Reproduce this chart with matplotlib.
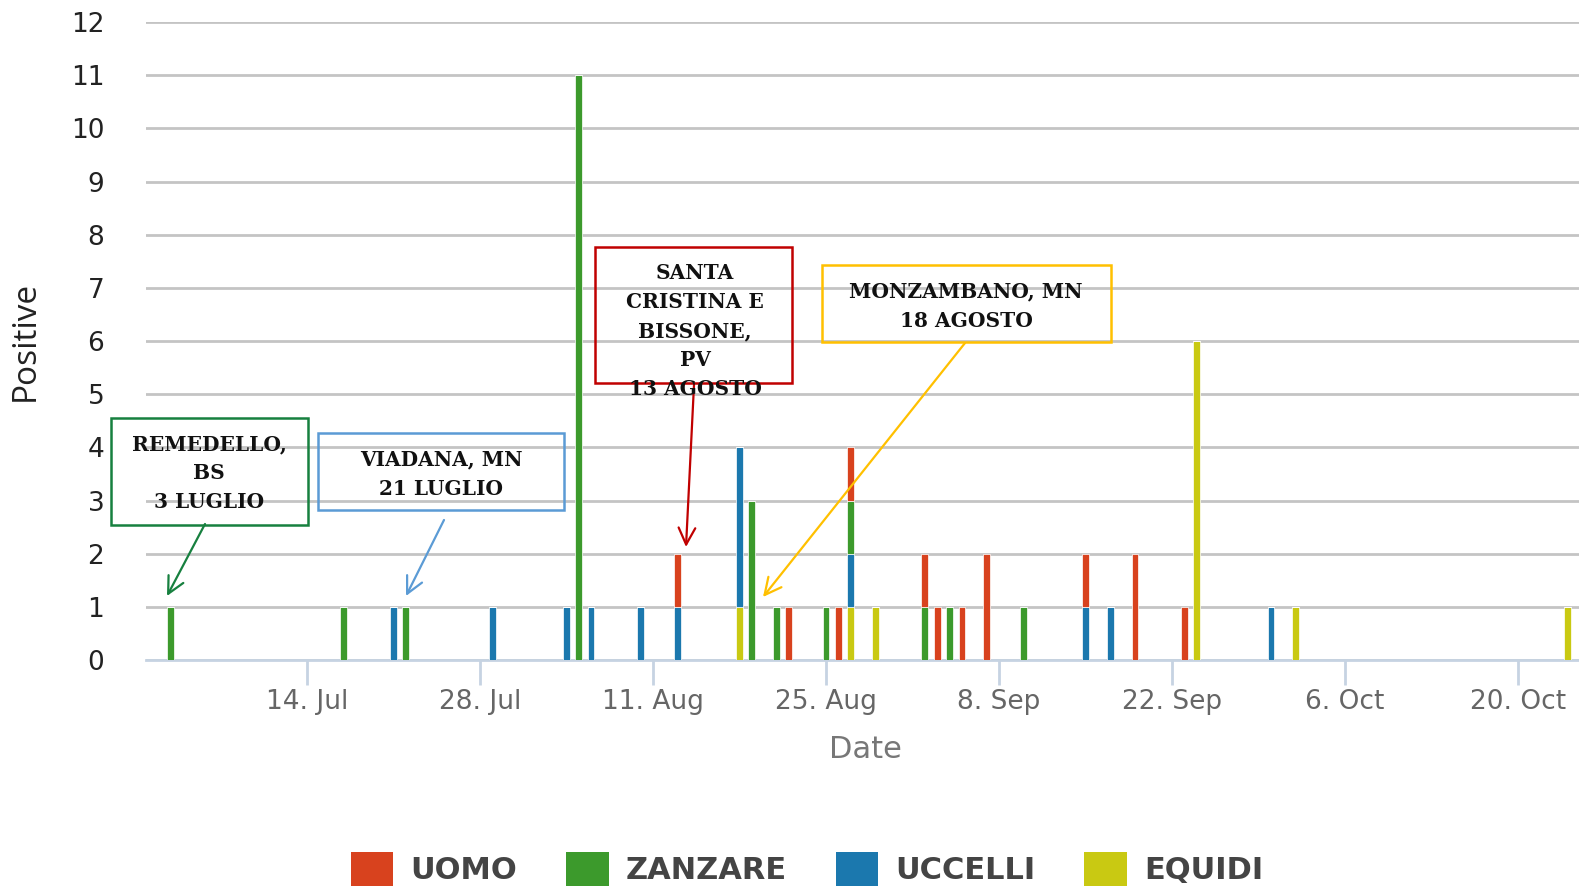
import matplotlib.pyplot as plt
import matplotlib.dates as mdates
from matplotlib.patches import Rectangle, Patch
import numpy as np
import datetime as dt

# positive samples per day (West Nile, Lombardia)
days = ['07-03', '07-17', '07-21', '07-22', '07-29', '08-04', '08-05', '08-06',
        '08-10', '08-13', '08-18', '08-19', '08-21', '08-22', '08-25', '08-26',
        '08-27', '08-29', '09-02', '09-03', '09-04', '09-05', '09-07', '09-10',
        '09-15', '09-17', '09-19', '09-23', '09-24', '09-30', '10-02', '10-24']
equidi  = [0, 0, 0, 0, 0, 0, 0, 0, 0, 0, 1, 0, 0, 0, 0, 0, 1, 1, 0, 0, 0, 0, 0, 0, 0, 0, 0, 0, 6, 0, 1, 1]
uccelli = [0, 0, 1, 0, 1, 1, 0, 1, 1, 1, 3, 0, 0, 0, 0, 0, 1, 0, 0, 0, 0, 0, 0, 0, 1, 1, 0, 0, 0, 1, 0, 0]
zanzare = [1, 1, 0, 1, 0, 0, 11, 0, 0, 0, 0, 3, 1, 0, 1, 0, 1, 0, 1, 0, 1, 0, 0, 1, 0, 0, 0, 0, 0, 0, 0, 0]
uomo    = [0, 0, 0, 0, 0, 0, 0, 0, 0, 1, 0, 0, 0, 1, 0, 1, 1, 0, 1, 1, 0, 1, 2, 0, 1, 0, 2, 1, 0, 0, 0, 0]

series_names = ['UOMO', 'ZANZARE', 'UCCELLI', 'EQUIDI']
colors = {'UOMO': '#d8421e', 'ZANZARE': '#3c9a2c', 'UCCELLI': '#1b78ae', 'EQUIDI': '#c9c912'}

tick_days = ['07-14', '07-28', '08-11', '08-25', '09-08', '09-22', '10-06', '10-20']
tick_labels = ['14. Jul', '28. Jul', '11. Aug', '25. Aug', '8. Sep', '22. Sep', '6. Oct', '20. Oct']

# annotations: text, edge colour
notes = [
    ('REMEDELLO,\nBS\n3 LUGLIO', '#17803f'),
    ('VIADANA, MN\n21 LUGLIO', '#5b9bd5'),
    ('SANTA\nCRISTINA E\nBISSONE,\nPV\n13 AGOSTO', '#c00000'),
    ('MONZAMBANO, MN\n18 AGOSTO', '#ffc000'),
]


def to_date(s):
    return dt.datetime(2014, int(s[:2]), int(s[3:]))


W, H = 1579, 886
fig = plt.figure(figsize=(W / 100, H / 100), dpi=100)
ax = fig.add_axes([146 / W, 1 - 660 / H, 1 - 146 / W, (660 - 22) / H])

x = mdates.date2num([to_date(d) for d in days])
bottom = np.zeros(len(days))
for name, vals in [('EQUIDI', equidi), ('UCCELLI', uccelli), ('ZANZARE', zanzare), ('UOMO', uomo)]:
    vals = np.array(vals, dtype=float)
    ax.bar(x, vals, width=0.55, bottom=bottom, color=colors[name],
           edgecolor='white', linewidth=0.5, zorder=3)
    bottom += vals

ax.set_ylim(0, 12)
ax.set_yticks(range(13))
ax.set_xlim(to_date('07-01'), to_date('10-24') + dt.timedelta(hours=22))
ax.set_xticks(mdates.date2num([to_date(d) for d in tick_days]))
ax.set_xticklabels(tick_labels)

ax.grid(axis='y', color='#c4c4c4', linewidth=2, zorder=0)
for s in ['left', 'right', 'top']:
    ax.spines[s].set_visible(False)
ax.spines['bottom'].set_color('#c6d3e2')
ax.spines['bottom'].set_linewidth(2)
ax.tick_params(axis='x', length=18, width=2, color='#c6d3e2', labelsize=19,
               labelcolor='#666666', pad=3)
ax.tick_params(axis='y', length=0, labelsize=19, labelcolor='#222222', pad=30)
ax.set_xlabel('Date', fontsize=22, color='#777777')
ax.xaxis.set_label_coords(0.502, -0.117)
ax.set_ylabel('Positive', fontsize=24, color='#222222', family='Open Sans')
ax.yaxis.set_label_coords(-0.073, 0.5)


def fp(px, py):
    return (px / W, 1 - py / H)


boxes = [(111, 418, 308, 525), (318, 433, 564, 510), (595, 247, 792, 383), (822, 265, 1111, 342)]
text_pos = [(209, 473), (441, 474), (695, 331), (966, 306)]
arrows = [((205, 524), (167, 596)), ((444, 520), (406, 596)),
          ((694, 385), (686, 547)), ((965, 343), (763, 597))]

for (txt, ec), (x0, y0, x1, y1), tp, (a0, a1) in zip(notes, boxes, text_pos, arrows):
    fig.patches.append(Rectangle(fp(x0, y1), (x1 - x0) / W, (y1 - y0) / H,
                                 transform=fig.transFigure, fill=False,
                                 edgecolor=ec, linewidth=1.8, zorder=5))
    fig.text(*fp(*tp), txt, ha='center', va='center', fontsize=14.5,
             fontweight='bold', family='DejaVu Serif', linespacing=1.57,
             color='#111111', zorder=6)
    ax.annotate('', xy=fp(*a1), xytext=fp(*a0), xycoords='figure fraction',
                textcoords='figure fraction',
                arrowprops=dict(arrowstyle='->', color=ec, lw=1.6,
                                mutation_scale=30, shrinkA=0, shrinkB=0),
                zorder=6)

handles = [Patch(facecolor=colors[n], edgecolor='none') for n in series_names]
leg = fig.legend(handles, series_names, loc='center', bbox_to_anchor=(0.511, 0.019),
                 ncol=4, frameon=False, handlelength=1.4, handleheight=1.4,
                 columnspacing=1.6, handletextpad=0.55,
                 prop={'size': 22, 'weight': 'bold'})
for t in leg.get_texts():
    t.set_color('#444444')

fig.savefig('out.png', dpi=100)
